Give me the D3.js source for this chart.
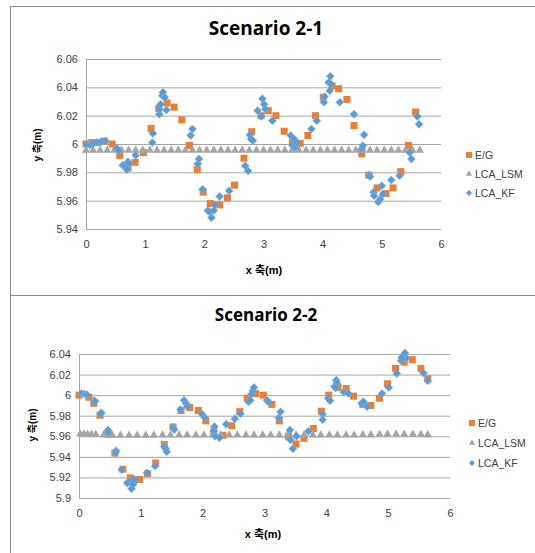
<!DOCTYPE html>
<html>
<head>
<meta charset="utf-8">
<script src="https://cdn.jsdelivr.net/npm/d3@7"></script>
<style>
  body { margin: 0; background: #fff; }
  svg text { font-family: "Liberation Sans", "Noto Sans CJK KR", sans-serif; fill: #404040; }
</style>
</head>
<body>
<div id="chart"></div>
<script>
// ---- data ----
var xTicks = [0, 1, 2, 3, 4, 5, 6];
var yTicks1 = [5.94, 5.96, 5.98, 6, 6.02, 6.04, 6.06];
var yTicks2 = [5.9, 5.92, 5.94, 5.96, 5.98, 6, 6.02, 6.04];
var seriesNames = ["E/G", "LCA_LSM", "LCA_KF"];

// Scenario 2-1
var s1EgX = [0, 0.1, 0.2, 0.31, 0.44, 0.57, 0.71, 0.83, 0.97, 1.1, 1.23, 1.37, 1.49, 1.62, 1.75, 1.88, 1.98, 2.1, 2.26, 2.39, 2.51, 2.67, 2.8, 2.96, 3.08, 3.21, 3.35, 3.49, 3.62, 3.75, 3.88, 4.01, 4.16, 4.27, 4.41, 4.53, 4.66, 4.78, 4.92, 5.07, 5.19, 5.32, 5.45, 5.57];
var s1EgY = [6.0, 6.001, 6.001, 6.002, 6.0, 5.992, 5.983, 5.987, 5.994, 6.011, 6.025, 6.029, 6.026, 6.017, 5.999, 5.982, 5.966, 5.958, 5.957, 5.962, 5.971, 5.99, 6.0087, 6.02, 6.0235, 6.02, 6.009, 6.001, 6.0005, 6.006, 6.02, 6.033, 6.041, 6.039, 6.0315, 6.013, 5.993, 5.978, 5.969, 5.965, 5.969, 5.9805, 5.999, 6.0226];
var s1LsmX = [0, 0.12, 0.24, 0.36, 0.48, 0.6, 0.72, 0.84, 0.96, 1.08, 1.2, 1.32, 1.44, 1.56, 1.68, 1.8, 1.92, 2.04, 2.16, 2.28, 2.4, 2.52, 2.64, 2.76, 2.88, 3.0, 3.12, 3.24, 3.36, 3.48, 3.6, 3.72, 3.84, 3.96, 4.08, 4.2, 4.32, 4.44, 4.56, 4.68, 4.8, 4.92, 5.04, 5.16, 5.28, 5.4, 5.52, 5.64];
var s1LsmY = [5.9955, 5.9955, 5.9956, 5.9955, 5.9955, 5.9955, 5.9955, 5.9955, 5.9955, 5.9955, 5.9955, 5.9955, 5.9955, 5.9955, 5.9955, 5.9955, 5.9955, 5.9955, 5.9955, 5.9955, 5.9955, 5.9955, 5.9955, 5.9955, 5.9955, 5.9955, 5.9955, 5.9955, 5.9955, 5.9955, 5.9955, 5.9955, 5.9955, 5.9955, 5.9955, 5.9955, 5.9955, 5.9955, 5.9955, 5.9955, 5.9955, 5.9955, 5.9955, 5.9955, 5.9955, 5.9955, 5.9955, 5.9955];
var s1KfX = [0.01, 0.07, 0.12, 0.19, 0.26, 0.33, 0.52, 0.55, 0.62, 0.66, 0.69, 0.71, 0.73, 0.84, 1.12, 1.13, 1.24, 1.24, 1.26, 1.29, 1.3, 1.33, 1.36, 1.77, 1.8, 1.89, 1.91, 1.97, 2.06, 2.09, 2.12, 2.16, 2.18, 2.26, 2.42, 2.69, 2.74, 2.77, 2.79, 2.82, 2.9, 2.96, 2.98, 3.01, 3.03, 3.15, 3.46, 3.49, 3.52, 3.53, 3.57, 3.81, 3.9, 4.02, 4.03, 4.1, 4.13, 4.14, 4.12, 4.29, 4.53, 4.66, 4.68, 4.7, 4.78, 4.8, 4.86, 4.87, 4.94, 4.97, 5.0, 5.02, 5.16, 5.3, 5.47, 5.5, 5.6, 5.63];
var s1KfY = [6.0, 5.9995, 6.0003, 6.0012, 6.0017, 6.0021, 5.997, 5.9955, 5.985, 5.9845, 5.982, 5.9875, 5.986, 5.992, 6.001, 6.0075, 6.021, 6.0247, 6.028, 6.034, 6.0365, 6.033, 6.024, 6.006, 6.0106, 5.986, 5.9895, 5.968, 5.953, 5.952, 5.948, 5.953, 5.957, 5.963, 5.967, 5.9847, 5.981, 6.0064, 6.0035, 6.0024, 6.0235, 6.0195, 6.032, 6.028, 6.0247, 6.0165, 6.006, 5.999, 6.0035, 5.9975, 6.0007, 6.0106, 6.0165, 6.0294, 6.0334, 6.0435, 6.0478, 6.0424, 6.0376, 6.0294, 6.021, 5.9965, 5.9988, 6.0066, 5.978, 5.977, 5.966, 5.9635, 5.959, 5.961, 5.9706, 5.9647, 5.9746, 5.9776, 5.994, 5.9894, 6.0195, 6.014];

// Scenario 2-2
var s2EgX = [0, 0.16, 0.24, 0.34, 0.47, 0.58, 0.71, 0.83, 0.98, 1.11, 1.24, 1.38, 1.52, 1.65, 1.79, 1.93, 2.05, 2.18, 2.33, 2.47, 2.6, 2.72, 2.86, 2.98, 3.12, 3.24, 3.39, 3.51, 3.64, 3.79, 3.92, 4.04, 4.19, 4.32, 4.44, 4.59, 4.72, 4.86, 4.99, 5.12, 5.26, 5.39, 5.53, 5.64];
var s2EgY = [6.0, 5.998, 5.992, 5.9805, 5.962, 5.9437, 5.928, 5.9195, 5.918, 5.9236, 5.934, 5.952, 5.969, 5.985, 5.988, 5.985, 5.975, 5.9645, 5.961, 5.9703, 5.984, 5.997, 6.0015, 6.0, 5.991, 5.975, 5.96, 5.9525, 5.958, 5.9675, 5.9844, 6.0, 6.0075, 6.0065, 5.999, 5.991, 5.99, 5.997, 6.011, 6.026, 6.032, 6.0345, 6.026, 6.016];
var s2LsmX = [0.02, 0.08, 0.14, 0.2, 0.27, 0.4, 0.54, 0.67, 0.81, 0.94, 1.08, 1.21, 1.35, 1.48, 1.62, 1.75, 1.89, 2.02, 2.16, 2.29, 2.43, 2.56, 2.7, 2.83, 2.97, 3.1, 3.24, 3.37, 3.51, 3.64, 3.78, 3.91, 4.05, 4.18, 4.32, 4.45, 4.59, 4.72, 4.86, 4.99, 5.13, 5.26, 5.4, 5.53, 5.64];
var s2LsmY = [5.9622, 5.9622, 5.962, 5.962, 5.9618, 5.9615, 5.961, 5.961, 5.961, 5.961, 5.961, 5.961, 5.9612, 5.9612, 5.9612, 5.9612, 5.9612, 5.9612, 5.9612, 5.9612, 5.9612, 5.9612, 5.9612, 5.9612, 5.9612, 5.9612, 5.9612, 5.9612, 5.9612, 5.9612, 5.9612, 5.9612, 5.9612, 5.9612, 5.9612, 5.9612, 5.9615, 5.9615, 5.9618, 5.962, 5.962, 5.962, 5.962, 5.9618, 5.9615];
var s2KfX = [0.04, 0.09, 0.13, 0.24, 0.26, 0.36, 0.35, 0.47, 0.47, 0.6, 0.59, 0.69, 0.78, 0.84, 0.85, 0.89, 0.9, 0.87, 1.1, 1.23, 1.38, 1.4, 1.42, 1.52, 1.54, 1.64, 1.7, 1.73, 1.75, 1.99, 2.03, 2.19, 2.18, 2.2, 2.27, 2.38, 2.52, 2.61, 2.74, 2.77, 2.81, 2.83, 2.79, 3.04, 3.06, 3.23, 3.26, 3.41, 3.42, 3.46, 3.52, 3.71, 3.94, 3.94, 4.03, 4.06, 4.13, 4.16, 4.17, 4.15, 4.28, 4.36, 4.57, 4.6, 4.66, 4.9, 5.01, 5.14, 5.21, 5.25, 5.27, 5.29, 5.22, 5.57, 5.64];
var s2KfY = [6.0016, 6.001, 6.0005, 5.9945, 5.994, 5.983, 5.982, 5.966, 5.964, 5.946, 5.944, 5.9275, 5.9145, 5.917, 5.909, 5.915, 5.918, 5.913, 5.9245, 5.931, 5.95, 5.948, 5.945, 5.969, 5.9665, 5.986, 5.995, 5.992, 5.989, 5.9816, 5.9784, 5.9694, 5.965, 5.96, 5.9585, 5.9717, 5.977, 5.982, 5.9935, 5.995, 6.004, 6.0075, 6.001, 5.995, 5.9935, 5.978, 5.9838, 5.966, 5.9565, 5.948, 5.96, 5.965, 5.9815, 5.976, 5.997, 5.9945, 6.0085, 6.0145, 6.012, 6.007, 6.003, 6.0016, 5.992, 5.9935, 5.9886, 6.0016, 6.0075, 6.021, 6.0335, 6.0385, 6.041, 6.036, 6.0365, 6.0216, 6.014];

// ---- drawing ----
var W = 535, H = 553;
var colors = { eg: "#ED7D31", lsm: "#A5A5A5", kf: "#5B9BD5" };

var svg = d3.select("#chart").append("svg")
  .attr("width", W).attr("height", H);

// chart frames
svg.append("rect").attr("x", 10.5).attr("y", 6.5).attr("width", 540).attr("height", 289)
  .attr("fill", "none").attr("stroke", "#8c8c8c");
svg.append("rect").attr("x", 10.5).attr("y", 295.5).attr("width", 540).attr("height", 270)
  .attr("fill", "none").attr("stroke", "#8c8c8c");

function zip(xs, ys) { return xs.map(function(x, i) { return [x, ys[i]]; }); }

function drawChart(cfg) {
  var g = svg.append("g");
  var x = d3.scaleLinear().domain([0, 6]).range([cfg.left, cfg.right]);
  var y = d3.scaleLinear().domain(cfg.yDomain).range([cfg.bottom, cfg.top]);

  g.append("text").attr("x", cfg.titleX).attr("y", cfg.titleY)
    .attr("text-anchor", "middle")
    .style("font-family", "'Open Sans', sans-serif")
    .style("font-weight", "bold").style("font-size", cfg.titleSize + "px")
    .style("fill", "#000")
    .text(cfg.title);

  // gridlines
  var yAxis = d3.axisLeft(y).tickValues(cfg.yTicks).tickSize(-(cfg.right - cfg.left))
    .tickPadding(8).tickFormat(d3.format("~g"));
  var ya = g.append("g").attr("transform", "translate(" + cfg.left + ",0)").call(yAxis);
  ya.select(".domain").attr("stroke", "#a6a6a6");
  ya.selectAll(".tick line").attr("stroke", "#a6a6a6");
  ya.selectAll(".tick text").style("font-size", "11px").style("fill", "#404040");

  var xAxis = d3.axisBottom(x).tickValues(xTicks).tickSize(0).tickPadding(11)
    .tickFormat(d3.format("d"));
  var xa = g.append("g").attr("transform", "translate(0," + cfg.bottom + ")").call(xAxis);
  xa.select(".domain").remove();
  xa.selectAll(".tick text").style("font-size", "11px").style("fill", "#404040");

  // axis titles
  g.append("text").attr("x", cfg.xLabelX).attr("y", cfg.xLabelY)
    .attr("text-anchor", "middle").style("font-weight", "bold").style("font-size", "11px")
    .style("fill", "#000").text("x 축(m)");
  g.append("text")
    .attr("transform", "translate(" + cfg.yLabelX + "," + cfg.yLabelY + ") rotate(-90)")
    .attr("text-anchor", "middle").style("font-weight", "bold").style("font-size", "10px")
    .style("fill", "#000").text("y 축(m)");

  // E/G squares
  g.selectAll(".eg").data(zip(cfg.egX, cfg.egY)).enter().append("rect")
    .attr("x", function(d) { return x(d[0]) - 3.5; })
    .attr("y", function(d) { return y(d[1]) - 3.5; })
    .attr("width", 7).attr("height", 7)
    .attr("fill", colors.eg);

  // LSM triangles
  var tri = d3.symbol().type(d3.symbolTriangle).size(30);
  g.selectAll(".lsm").data(zip(cfg.lsmX, cfg.lsmY)).enter().append("path")
    .attr("d", tri)
    .attr("transform", function(d) { return "translate(" + x(d[0]) + "," + y(d[1]) + ")"; })
    .attr("fill", colors.lsm);

  // KF diamonds
  g.selectAll(".kf").data(zip(cfg.kfX, cfg.kfY)).enter().append("path")
    .attr("d", "M0,-4L4,0L0,4L-4,0Z")
    .attr("transform", function(d) { return "translate(" + x(d[0]) + "," + y(d[1]) + ")"; })
    .attr("fill", colors.kf)
    .attr("stroke", "#7fb2e0").attr("stroke-width", 0.6);

  // legend
  var lg = g.append("g");
  seriesNames.forEach(function(name, i) {
    var ly = cfg.legendY + i * cfg.legendStep;
    var mx = cfg.legendX;
    if (i === 0) lg.append("rect").attr("x", mx - 3).attr("y", ly - 3).attr("width", 6).attr("height", 6).attr("fill", colors.eg);
    if (i === 1) lg.append("path").attr("d", d3.symbol().type(d3.symbolTriangle).size(18)).attr("transform", "translate(" + mx + "," + ly + ")").attr("fill", colors.lsm);
    if (i === 2) lg.append("path").attr("d", "M0,-3L3,0L0,3L-3,0Z").attr("transform", "translate(" + mx + "," + ly + ")").attr("fill", colors.kf);
    lg.append("text").attr("x", mx + 6).attr("y", ly + 4)
      .style("font-size", "10.5px").style("fill", "#404040").text(name);
  });
}

drawChart({
  title: "Scenario 2-1", titleX: 266, titleY: 35, titleSize: 19,
  left: 86, right: 441, top: 59, bottom: 229,
  yDomain: [5.94, 6.06], yTicks: yTicks1,
  xLabelX: 264, xLabelY: 274, yLabelX: 41, yLabelY: 145,
  egX: s1EgX, egY: s1EgY, lsmX: s1LsmX, lsmY: s1LsmY, kfX: s1KfX, kfY: s1KfY,
  legendX: 469, legendY: 155, legendStep: 19
});

drawChart({
  title: "Scenario 2-2", titleX: 266, titleY: 321, titleSize: 17,
  left: 79, right: 450, top: 354, bottom: 498,
  yDomain: [5.9, 6.04], yTicks: yTicks2,
  xLabelX: 263, xLabelY: 538, yLabelX: 36, yLabelY: 425,
  egX: s2EgX, egY: s2EgY, lsmX: s2LsmX, lsmY: s2LsmY, kfX: s2KfX, kfY: s2KfY,
  legendX: 472, legendY: 423, legendStep: 20
});
</script>
</body>
</html>
